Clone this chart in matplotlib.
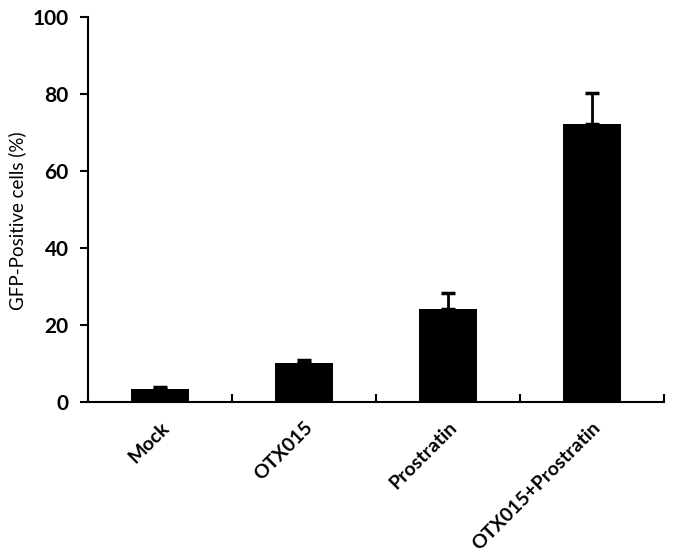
import matplotlib
matplotlib.use("Agg")
import matplotlib.pyplot as plt
import numpy as np

categories = ["Mock", "OTX015", "Prostratin", "OTX015+Prostratin"]
values = [3.5, 10.1, 24.2, 72.2]
errors = [0.5, 0.8, 4.1, 8.1]
y_ticks = [0, 20, 40, 60, 80, 100]

plt.rcParams["font.family"] = ["Lato", "DejaVu Sans"]

fig = plt.figure(figsize=(6.75, 5.57), dpi=100)
ax = fig.add_axes([0.1304, 0.2783, 0.8533, 0.6912])

x = np.arange(len(categories))
ax.bar(x, values, width=0.4, color="black", zorder=2)
ax.errorbar(x, values, yerr=[np.zeros(len(errors)), errors], fmt="none",
            ecolor="black", elinewidth=2, capsize=5, capthick=2.5, zorder=3)

ax.set_xlim(-0.5, len(categories) - 0.5)
ax.set_ylim(0, 100)
ax.set_yticks(y_ticks)
ax.set_yticklabels([str(t) for t in y_ticks], fontsize=15, fontweight="bold")

ax.set_xticks(x)
ax.set_xticklabels(categories, rotation=45, ha="right", rotation_mode="anchor",
                   fontsize=14, fontweight="bold")
ax.tick_params(axis="x", which="major", length=0, pad=12)
ax.set_xticks(np.arange(-0.5, len(categories), 1.0), minor=True)
ax.tick_params(axis="x", which="minor", direction="in", length=6, width=1.5)
ax.tick_params(axis="y", direction="out", length=6, width=1.5, pad=8)

for s in ["top", "right"]:
    ax.spines[s].set_visible(False)
for s in ["left", "bottom"]:
    ax.spines[s].set_linewidth(1.5)

ax.set_ylabel("GFP-Positive cells (%)", fontsize=13.5)
ax.yaxis.set_label_coords(-0.108, 0.47)

fig.savefig("out.png", dpi=100)
